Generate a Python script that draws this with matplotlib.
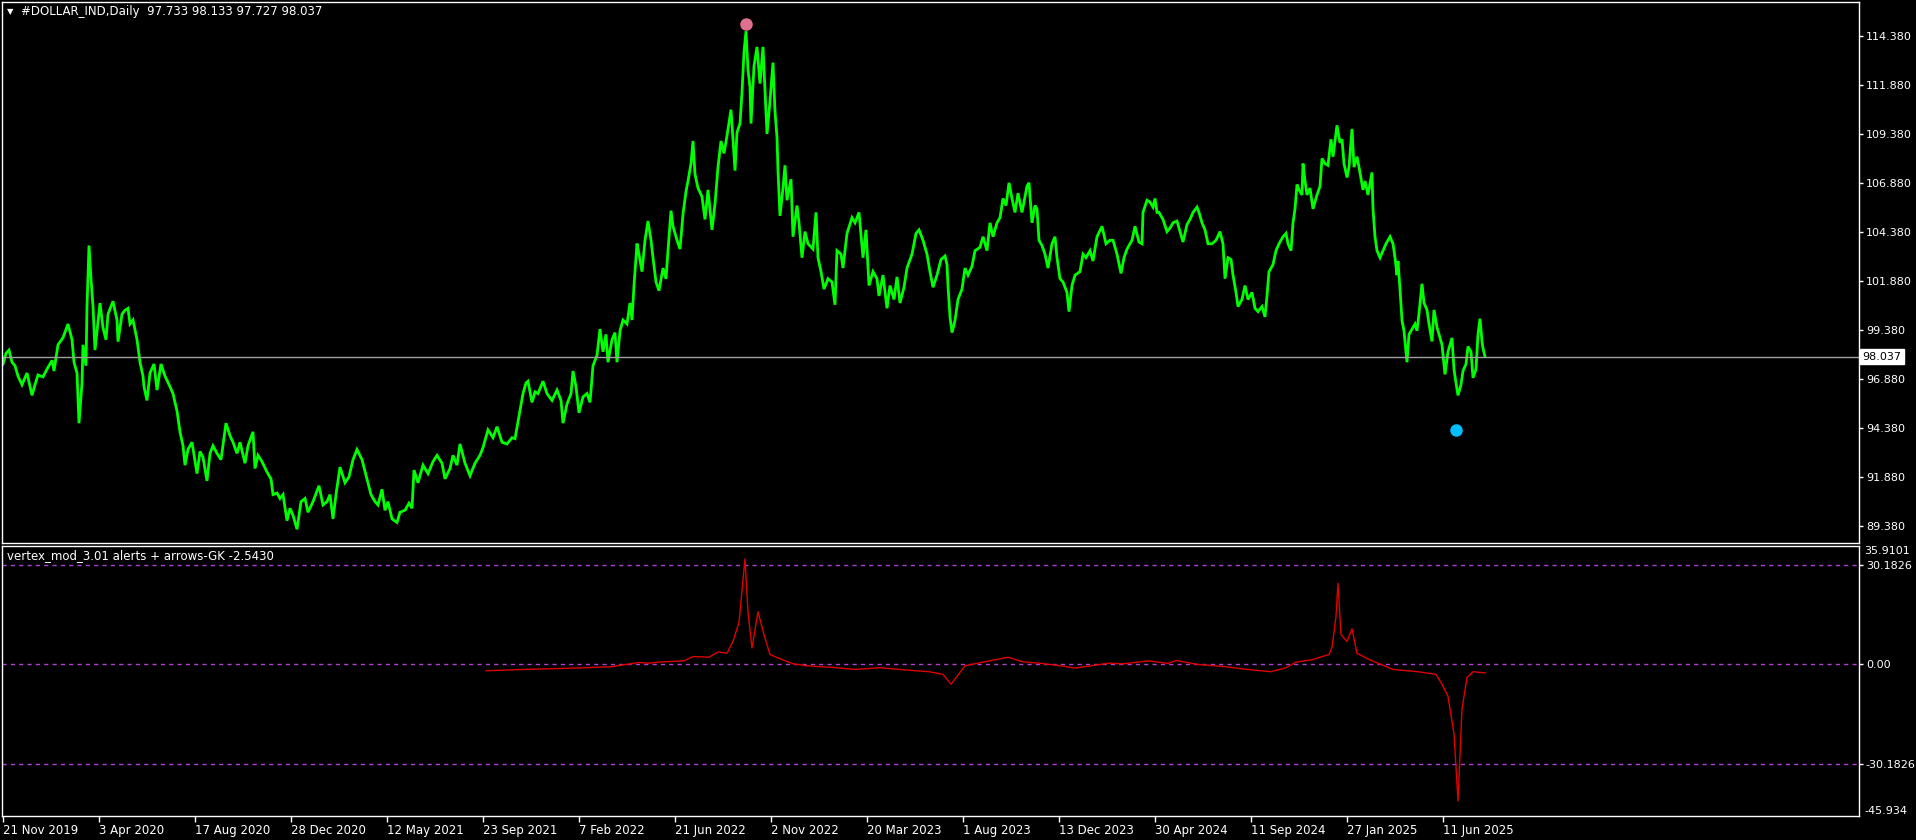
import matplotlib.pyplot as plt
from matplotlib.transforms import blended_transform_factory

# price path (bar index, price) at turning points
price_bar = [
    0, 3, 6, 9, 12, 15, 19, 24, 29, 32, 35, 40, 44, 49, 51, 55, 60, 65, 69, 71,
    74, 76, 79, 80, 83, 84, 86, 88, 90, 92, 94, 97, 100, 103, 105, 110, 114, 115, 119, 122,
    125, 127, 130, 134, 137, 140, 141, 144, 147, 151, 154, 158, 162, 167, 170, 174, 177, 180, 182, 185,
    189, 194, 197, 200, 204, 207, 210, 214, 218, 223, 227, 230, 234, 237, 242, 245, 250, 252, 255, 259,
    264, 268, 270, 274, 277, 280, 284, 287, 290, 294, 298, 302, 305, 310, 316, 320, 324, 327, 330, 333,
    337, 342, 346, 350, 354, 359, 364, 368, 372, 375, 379, 382, 385, 389, 394, 397, 402, 406, 409, 411,
    415, 420, 425, 430, 434, 439, 442, 447, 450, 454, 457, 462, 467, 472, 477, 480, 485, 490, 494, 499,
    504, 509, 512,
    516, 520, 523, 525, 529, 532, 535, 540, 544, 549, 554, 558, 560, 564, 568, 570, 573, 576, 580, 584,
    587, 590, 594, 597, 600, 603, 605, 609, 612, 614, 617, 620, 624, 627, 629, 631, 634, 636, 639, 642,
    645, 648, 650, 653, 656, 660, 663, 665, 668, 670, 674, 677, 680, 683, 685, 688, 690, 692, 695, 699,
    702, 705, 709, 712, 715, 718, 721, 724, 728, 730, 732, 734, 737, 739, 741, 743, 745, 747, 748, 751,
    754, 757, 760, 762, 764, 767, 770, 772, 774, 775, 777, 780, 782, 784, 788, 790, 794, 796, 799, 802,
    805, 810, 813, 815, 818, 821, 825, 829, 832, 834, 838, 840, 844, 849, 852, 856, 860, 863, 866, 870,
    874, 876, 880, 884, 887, 891, 894, 897, 901, 904, 909, 913, 916, 920, 924, 927, 930, 934, 938, 942,
    944, 945, 947, 949, 952, 955, 959, 962, 965, 969, 972, 977, 980, 984, 987, 990, 994, 997, 1000, 1003,
    1006, 1009, 1012, 1015,
    1019, 1024, 1026, 1029, 1032, 1034, 1036, 1039, 1042, 1045, 1049, 1052, 1054, 1057, 1060, 1064, 1066, 1069, 1072, 1077,
    1080, 1083, 1087, 1090, 1094, 1099, 1103, 1107, 1110, 1114, 1118, 1121, 1124, 1129, 1132, 1136, 1139, 1140, 1144, 1147,
    1150, 1152, 1154, 1156, 1160, 1164, 1167, 1170, 1174, 1177, 1180, 1184, 1187, 1190, 1194, 1196, 1199, 1202, 1205, 1209,
    1213, 1217, 1220, 1222, 1225, 1228, 1230, 1233, 1235, 1239, 1242, 1245, 1249, 1252, 1255, 1259, 1262, 1264, 1266, 1270,
    1273, 1276, 1280, 1283, 1285, 1288, 1290, 1292, 1294, 1296, 1299, 1300, 1302, 1304, 1307, 1310, 1314, 1317, 1319, 1322,
    1325, 1328, 1330, 1332, 1334, 1337, 1339, 1341, 1344, 1346, 1349, 1351, 1354, 1356, 1360, 1362, 1365, 1369, 1370, 1372,
    1374, 1377, 1380, 1383, 1387, 1390, 1392, 1394, 1395, 1397, 1399, 1401, 1404, 1406, 1410, 1412, 1414, 1416, 1419, 1421,
    1424, 1426, 1429, 1431, 1434, 1436, 1439, 1442, 1445, 1449, 1451, 1453, 1455, 1458, 1460, 1463, 1465, 1468, 1470, 1473,
    1475, 1477, 1479, 1480, 1482,
]
price_val = [
    97.66, 98.2, 98.37, 97.75, 97.57, 97.04, 96.6, 97.2, 96.06, 96.6, 97.1, 97.0, 97.4, 97.84, 97.3, 98.64, 99.0, 99.7, 98.9, 97.75,
    97.2, 94.64, 96.69, 98.64, 97.57, 100.6, 103.7, 102.0, 100.6, 98.37, 99.35, 100.77, 99.5, 98.9, 100.2, 100.86, 99.9, 98.8, 100.2, 100.4,
    100.5, 99.7, 99.9, 98.9, 97.75, 97.04, 96.5, 95.8, 97.2, 97.66, 96.33, 97.66, 97.04, 96.5, 96.15, 95.26, 94.2, 93.49, 92.5, 93.3,
    93.67, 92.07, 93.2, 92.9, 91.7, 93.1, 93.49, 93.1, 92.78, 94.64, 94.0, 93.67, 93.1, 93.67, 92.6, 93.49, 94.2, 92.33, 93.0, 92.68,
    92.15, 91.8, 91.0, 91.08, 90.8, 91.0, 89.67, 90.3, 89.94, 89.23, 90.64, 90.8, 90.1, 90.64, 91.45, 90.47, 90.64, 91.0, 89.76, 91.0,
    92.4, 91.6, 91.9, 92.78, 93.3, 92.78, 91.8, 91.0, 90.64, 90.47, 91.27, 90.2, 90.64, 89.76, 89.58, 90.1, 90.2, 90.56, 90.3, 92.25,
    91.6, 92.5, 92.07, 92.68, 93.0, 92.6, 91.8, 92.33, 93.0, 92.5, 93.58, 92.6, 91.96, 92.6, 93.0, 93.4, 94.3, 93.9, 94.46, 93.67,
    93.58, 93.9, 93.85,
    95.0, 96.15, 96.69, 96.78, 95.7, 96.24, 96.15, 96.78, 96.15, 95.8, 96.33, 95.8, 94.64, 95.62, 96.15, 97.3, 96.5, 95.17, 95.98, 96.15,
    95.7, 97.57, 98.1, 99.44, 98.28, 99.17, 97.75, 98.9, 99.26, 97.75, 99.35, 99.9, 99.7, 100.77, 99.9, 101.66, 103.8, 103.26, 102.37, 103.97,
    104.95, 103.97, 103.08, 101.84, 101.4, 102.55, 102.0, 103.44, 105.48, 104.68, 103.97, 103.52, 105.3, 106.46, 106.99, 107.88, 109.03, 107.34, 106.63, 106.19,
    105.03, 106.54, 104.5, 105.83, 107.7, 109.03, 108.4, 109.3, 110.63, 109.12, 107.52, 109.47, 109.92, 111.52, 113.56, 114.63, 112.67, 111.78, 109.92, 112.85,
    113.83, 111.96, 113.83, 111.6, 109.39, 111.07, 113.03, 110.54, 109.2, 107.52, 105.21, 106.63, 107.79, 106.01, 107.08, 104.15, 105.74, 104.86, 103.08, 104.41,
    103.79, 103.52, 105.39, 103.08, 102.37, 101.48, 102.01, 101.84, 100.68, 103.44, 103.26, 102.55, 104.32, 105.12, 104.86, 105.39, 103.08, 104.5, 101.66, 102.37,
    102.01, 101.13, 102.19, 100.5, 101.66, 100.95, 102.1, 100.77, 101.57, 102.55, 103.26, 104.32, 104.5, 103.97, 103.26, 102.37, 101.57, 102.19, 102.99, 103.17,
    102.73, 101.66, 100.06, 99.26, 99.88, 100.95, 101.48, 102.55, 102.19, 102.64, 103.44, 103.61, 104.15, 103.44, 104.86, 104.15, 104.86, 105.12, 106.1, 105.74,
    106.9, 106.1, 105.39, 106.37,
    105.39, 106.72, 106.9, 104.86, 105.74, 105.57, 103.97, 103.7, 103.26, 102.55, 103.79, 104.15, 103.08, 102.01, 101.84, 101.31, 100.33, 101.66, 102.19, 102.37,
    103.26, 103.08, 103.44, 102.91, 104.15, 104.68, 103.79, 103.97, 103.97, 103.26, 102.28, 103.08, 103.52, 103.97, 104.68, 103.88, 103.79, 105.39, 106.01, 105.92,
    105.66, 106.1, 105.39, 105.39, 105.03, 104.41, 104.59, 104.86, 104.95, 104.41, 103.88, 104.77, 105.03, 105.39, 105.66, 105.39, 104.86, 104.5, 103.79, 103.79,
    103.97, 104.41, 103.79, 102.01, 103.08, 102.99, 102.19, 101.31, 100.59, 100.95, 101.66, 100.95, 101.31, 100.5, 100.33, 100.59, 100.06, 101.13, 102.37, 102.73,
    103.44, 103.79, 104.15, 104.32, 103.79, 103.44, 104.86, 105.57, 106.81, 106.54, 106.28, 107.88, 106.99, 106.28, 106.63, 105.57, 106.28, 106.72, 108.14, 107.88,
    107.79, 109.12, 108.23, 109.03, 109.83, 108.94, 109.12, 107.88, 107.17, 107.7, 109.65, 107.7, 108.23, 107.7, 106.54, 106.99, 106.28, 107.43, 105.57, 104.15,
    103.44, 103.08, 103.44, 103.79, 104.15, 103.79, 103.08, 102.19, 102.91, 101.48, 99.88, 99.35, 97.75, 99.17, 99.53, 99.7, 99.35, 100.24, 101.75, 100.77,
    100.42, 99.7, 98.81, 100.42, 99.53, 99.17, 98.64, 97.13, 98.28, 98.99, 97.39, 96.69, 96.06, 96.6, 97.3, 97.66, 98.55, 98.28, 96.95, 97.39,
    99.17, 99.97, 98.81, 98.46, 98.04,
]
last_price = 98.037

# vertex indicator (bar index, value)
ind_bar = [483, 522, 560, 571, 608, 636, 645, 660, 681, 690, 706, 715, 724, 730, 736, 740, 742, 745, 749, 755,
           761, 767, 779, 790, 804, 830, 852, 877, 900, 926, 940, 948, 962, 985, 1005, 1020, 1036, 1060, 1072, 1097,
           1106, 1120, 1146, 1165, 1173, 1195, 1220, 1244, 1268, 1283, 1293, 1310, 1317, 1326, 1329, 1333, 1335, 1338, 1344, 1349,
           1354, 1366, 1390, 1415, 1433, 1439, 1445, 1451, 1455, 1459, 1464, 1470, 1482]
ind_val = [-1.9, -1.5, -1.2, -1.1, -0.7, 0.6, 0.4, 0.8, 1.1, 2.4, 2.2, 3.8, 3.4, 7.0, 12.7, 25.7, 32.0, 16.0, 5.0, 16.0,
           9.0, 3.0, 1.5, 0.2, -0.4, -0.9, -1.5, -1.0, -1.6, -2.2, -3.0, -6.0, -0.4, 1.0, 2.2, 0.8, 0.4, -0.5, -1.1, 0.0,
           0.4, 0.2, 1.1, 0.3, 1.2, 0.0, -0.6, -1.5, -2.2, -1.0, 0.7, 1.5, 2.2, 3.0, 5.2, 14.5, 24.6, 9.0, 7.0, 10.8,
           3.4, 1.5, -1.5, -2.2, -3.0, -6.0, -9.7, -21.0, -41.4, -13.4, -4.0, -2.2, -2.54]

# arrows (dots) of the indicator
top_arrow = (743, 114.98)
bottom_arrow = (1453, 94.27)

price_ticks = [114.38, 111.88, 109.38, 106.88, 104.38, 101.88, 99.38, 96.88, 94.38, 91.88, 89.38]
ind_levels = [30.1826, 0.0, -30.1826]
ind_labels = ['30.1826', '0.00', '-30.1826']
date_bars = [0, 96, 192, 288, 384, 480, 576, 672, 768, 864, 960, 1056, 1152, 1248, 1344, 1440]
date_labels = ['21 Nov 2019', '3 Apr 2020', '17 Aug 2020', '28 Dec 2020', '12 May 2021', '23 Sep 2021',
               '7 Feb 2022', '21 Jun 2022', '2 Nov 2022', '20 Mar 2023', '1 Aug 2023', '13 Dec 2023',
               '30 Apr 2024', '11 Sep 2024', '27 Jan 2025', '11 Jun 2025']

W, H = 1916, 840
fig = plt.figure(figsize=(W / 100, H / 100), dpi=100, facecolor='black')


def px_axes(left, top, right, bottom):
    a = fig.add_axes([left / W, 1 - bottom / H, (right - left) / W, (bottom - top) / H])
    a.set_facecolor('black')
    for s in a.spines.values():
        s.set_color('white')
        s.set_linewidth(1)
    a.yaxis.tick_right()
    a.tick_params(colors='white', labelsize=8, length=3, pad=2, width=1)
    return a


ax = px_axes(2, 2, 1859, 543)
sub = px_axes(2, 546, 1859, 816)

# main price window
ax.plot(price_bar, price_val, color='#00ff00', lw=2.0, solid_joinstyle='miter')
ax.axhline(last_price, color='#a0a0a0', lw=1)
ax.scatter([top_arrow[0]], [top_arrow[1]], s=64, color='#e07090', zorder=5)
ax.scatter([bottom_arrow[0]], [bottom_arrow[1]], s=64, color='#00bfff', zorder=5)
ax.set_xlim(-1, 1856)
ax.set_ylim(88.53, 116.12)
ax.set_xticks([])
ax.set_yticks(price_ticks)
ax.set_yticklabels([f'{t:.3f}' for t in price_ticks])

tr = blended_transform_factory(ax.transAxes, ax.transData)
ax.text(1.002, last_price, f'{last_price:.3f}', transform=tr, va='center', ha='left',
        color='black', fontsize=8, clip_on=False,
        bbox=dict(facecolor='white', edgecolor='white', boxstyle='square,pad=0.25'))

fig.text(7 / W, 1 - 12 / H, '\u25bc', color='white', fontsize=6, va='center', ha='left')
fig.text(21 / W, 1 - 12 / H, '#DOLLAR_IND,Daily  97.733 98.133 97.727 98.037',
         color='white', fontsize=8.5, va='center', ha='left')

# indicator window
for lv in ind_levels:
    sub.axhline(lv, color='#b040d0', lw=1, ls=(0, (3, 3)))
sub.plot(ind_bar, ind_val, color='#e00000', lw=1)
sub.set_xlim(-1, 1856)
sub.set_ylim(-45.934, 35.9101)
sub.set_yticks(ind_levels)
sub.set_yticklabels(ind_labels)
sub.text(1.003, 1.0, '35.9101', transform=sub.transAxes, va='top', ha='left', color='white', fontsize=8)
sub.text(1.003, 0.0, '-45.934', transform=sub.transAxes, va='bottom', ha='left', color='white', fontsize=8)
sub.set_xticks(date_bars)
sub.set_xticklabels(date_labels, ha='left')
sub.tick_params(axis='x', length=4, pad=2, labelsize=8.5)
fig.text(7 / W, 1 - 556 / H, 'vertex_mod_3.01 alerts + arrows-GK -2.5430',
         va='center', ha='left', color='white', fontsize=8.5)

fig.savefig('out.png', dpi=100, facecolor='black')
